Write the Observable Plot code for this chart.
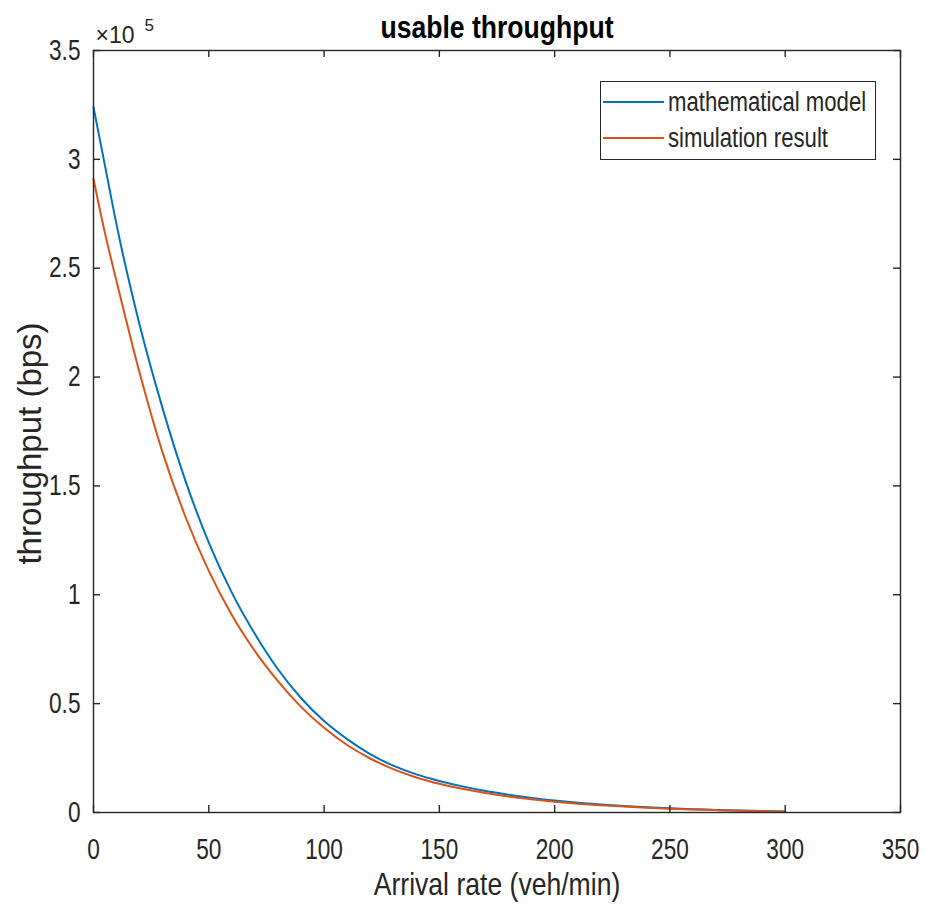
<!DOCTYPE html>
<html><head><meta charset="utf-8">
<script src="https://cdn.jsdelivr.net/npm/d3@7"></script>
<script src="https://cdn.jsdelivr.net/npm/@observablehq/plot@0.6"></script>
<style>
html,body{margin:0;padding:0;background:#fff;}
#wrap{position:relative;width:925px;height:905px;}
#legend{position:absolute;left:600px;top:81px;width:276px;height:79px;border:1.3px solid #262626;background:#fff;box-sizing:border-box;font-family:"Liberation Sans",Arial,sans-serif;font-size:27px;color:#262626;}
#legend .sw{position:absolute;left:2px;width:61px;height:0;border-top:2px solid;}
#legend .t{position:absolute;left:67px;line-height:27px;white-space:nowrap;transform:scaleX(0.82);transform-origin:0 0;}
</style></head><body><div id="wrap"></div>
<script>
const arrivalRate = [0,5,10,20,30,40,50,60,70,80,90,100,110,120,130,140,150,160,170,180,190,200,210,220,230,240,250,260,270,280,290,300];
const modelThroughput = [324000,297000,270000,224000,185500,152000,124000,101000,82000,65800,52600,42000,33700,26800,21500,17500,14500,12000,9900,8200,6700,5500,4500,3700,3000,2400,1900,1500,1200,900,700,500];
const simThroughput = [291000,266000,244000,202000,165300,135500,111000,90700,74100,60300,48500,38900,31000,24800,19900,16100,13200,10900,9000,7400,6050,4950,4050,3300,2700,2200,1750,1400,1100,800,600,400];
const seriesNames = ["mathematical model","simulation result"];
const seriesColors = ["#0072BD","#D95319"];
const xTicks = [0,50,100,150,200,250,300,350];
const yTicks = [0,50000,100000,150000,200000,250000,300000,350000];
const yTickLabels = ["0","0.5","1","1.5","2","2.5","3","3.5"];
const titleText = "usable throughput";
const xLabel = "Arrival rate (veh/min)";
const yLabel = "throughput (bps)";
const expText = "×10";
const expPower = "5";

const rows = [
  ...arrivalRate.map((x,i)=>({x, y:modelThroughput[i], s:seriesNames[0]})),
  ...arrivalRate.map((x,i)=>({x, y:simThroughput[i], s:seriesNames[1]}))
];
const sans = '"Liberation Sans",Arial,sans-serif';
const ink = "#262626";

const chart = Plot.plot({
  width: 925, height: 905,
  marginLeft: 93, marginRight: 25, marginTop: 50, marginBottom: 93,
  x: {domain: [0,350]},
  y: {domain: [0,350000]},
  color: {domain: seriesNames, range: seriesColors},
  style: {fontFamily: sans, color: ink, background: "white", overflow: "visible"},
  marks: [
    Plot.line(rows, {x:"x", y:"y", z:"s", stroke:"s", strokeWidth:2, curve:"monotone-x"}),
    Plot.frame({stroke: ink, strokeWidth: 1.4}),
    Plot.tickX(xTicks, {x: d=>d, insetTop: 755, stroke: ink, strokeWidth: 1.4}),
    Plot.tickX(xTicks, {x: d=>d, insetBottom: 755, stroke: ink, strokeWidth: 1.4}),
    Plot.tickY(yTicks, {y: d=>d, insetRight: 800, stroke: ink, strokeWidth: 1.4}),
    Plot.tickY(yTicks, {y: d=>d, insetLeft: 800, stroke: ink, strokeWidth: 1.4}),
    Plot.axisX({ticks: xTicks, tickSize: 0, tickPadding: 26, fontSize: 29, label: null, fill: ink}),
    Plot.axisY({ticks: yTicks, tickSize: 0, tickPadding: 13, fontSize: 29, label: null, fill: ink,
      tickFormat: d => yTickLabels[yTicks.indexOf(d)]}),
    Plot.text([titleText], {frameAnchor:"top", textAnchor:"middle", lineAnchor:"middle", dy:-23, fontWeight:"bold", fontSize:32, fill:"#000"}),
    Plot.text([xLabel], {frameAnchor:"bottom", textAnchor:"middle", lineAnchor:"middle", dy:72, fontSize:32, fill: ink}),
    Plot.text([yLabel], {frameAnchor:"left", textAnchor:"middle", lineAnchor:"middle", dx:-63, dy:12, rotate:-90, fontSize:33, fill: ink}),
    Plot.text([expText], {frameAnchor:"top-left", textAnchor:"start", lineAnchor:"bottom", dx:2, dy:-8, fontSize:23, fill: ink}),
    Plot.text([expPower], {frameAnchor:"top-left", textAnchor:"start", lineAnchor:"bottom", dx:51, dy:-20, fontSize:17, fill: ink})
  ]
});
const wrap = document.getElementById("wrap");
wrap.appendChild(chart);

// condense horizontal texts (the reference uses a narrow face)
chart.querySelectorAll("text").forEach(t => {
  const s = t.textContent;
  if (s === yLabel || s === expText || s === expPower) return;
  const g = t.closest("g");
  const isTick = g && /tick label/.test(g.getAttribute("aria-label") || "");
  const f = isTick ? 0.78 : 0.83;
  const w = t.getComputedTextLength();
  t.setAttribute("textLength", (w * f).toFixed(1));
  t.setAttribute("lengthAdjust", "spacingAndGlyphs");
});

const legend = document.createElement("div");
legend.id = "legend";
seriesNames.forEach((name,i)=>{
  const sw = document.createElement("div");
  sw.className = "sw";
  sw.style.top = (19 + i*36) + "px";
  sw.style.borderTopColor = seriesColors[i];
  const t = document.createElement("div");
  t.className = "t";
  t.style.top = (7 + i*36) + "px";
  t.textContent = name;
  legend.appendChild(sw);
  legend.appendChild(t);
});
wrap.appendChild(legend);
</script>
</body></html>
